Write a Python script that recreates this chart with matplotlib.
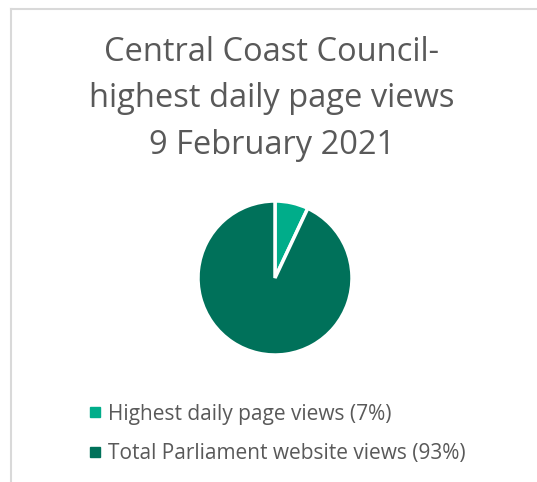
import matplotlib.pyplot as plt
from matplotlib.lines import Line2D

labels = ["Highest daily page views (7%)", "Total Parliament website views (93%)"]
values = [7, 93]
colors = ["#00ad8a", "#00715a"]
title = "Central Coast Council-\nhighest daily page views\n9 February 2021"

plt.rcParams['font.family'] = ['Open Sans', 'DejaVu Sans']

fig = plt.figure(figsize=(5.37, 4.82), dpi=100)

# chart border (only top and left edges visible in the crop)
fig.add_artist(Line2D([10.5 / 537, 1], [1 - 8.5 / 482, 1 - 8.5 / 482], color="#d9d9d9", lw=1.5))
fig.add_artist(Line2D([10.5 / 537, 10.5 / 537], [0, 1 - 8.5 / 482], color="#d9d9d9", lw=1.5))

fig.text(272 / 537, 1 - 99 / 482, title, ha="center", va="center", fontsize=23.5,
         color="#595959", linespacing=1.55)

ax = fig.add_axes([(275 - 80) / 537, 1 - (278 + 80) / 482, 160 / 537, 160 / 482])
ax.pie(values, colors=colors, startangle=90, counterclock=False,
       wedgeprops=dict(edgecolor="white", linewidth=2.5))
ax.set_xlim(-80 / 77, 80 / 77)
ax.set_ylim(-80 / 77, 80 / 77)
ax.set_aspect("equal")

handles = [Line2D([], [], marker="s", ls="", color=c, markersize=7) for c in colors]
leg = fig.legend(handles, labels, loc="upper left", bbox_to_anchor=(67 / 537, 1 - 385 / 482),
                 frameon=False, fontsize=15, labelcolor="#595959", handletextpad=0.15,
                 labelspacing=0.9, handlelength=0.9)

fig.savefig("out.png", dpi=100, facecolor="white")
